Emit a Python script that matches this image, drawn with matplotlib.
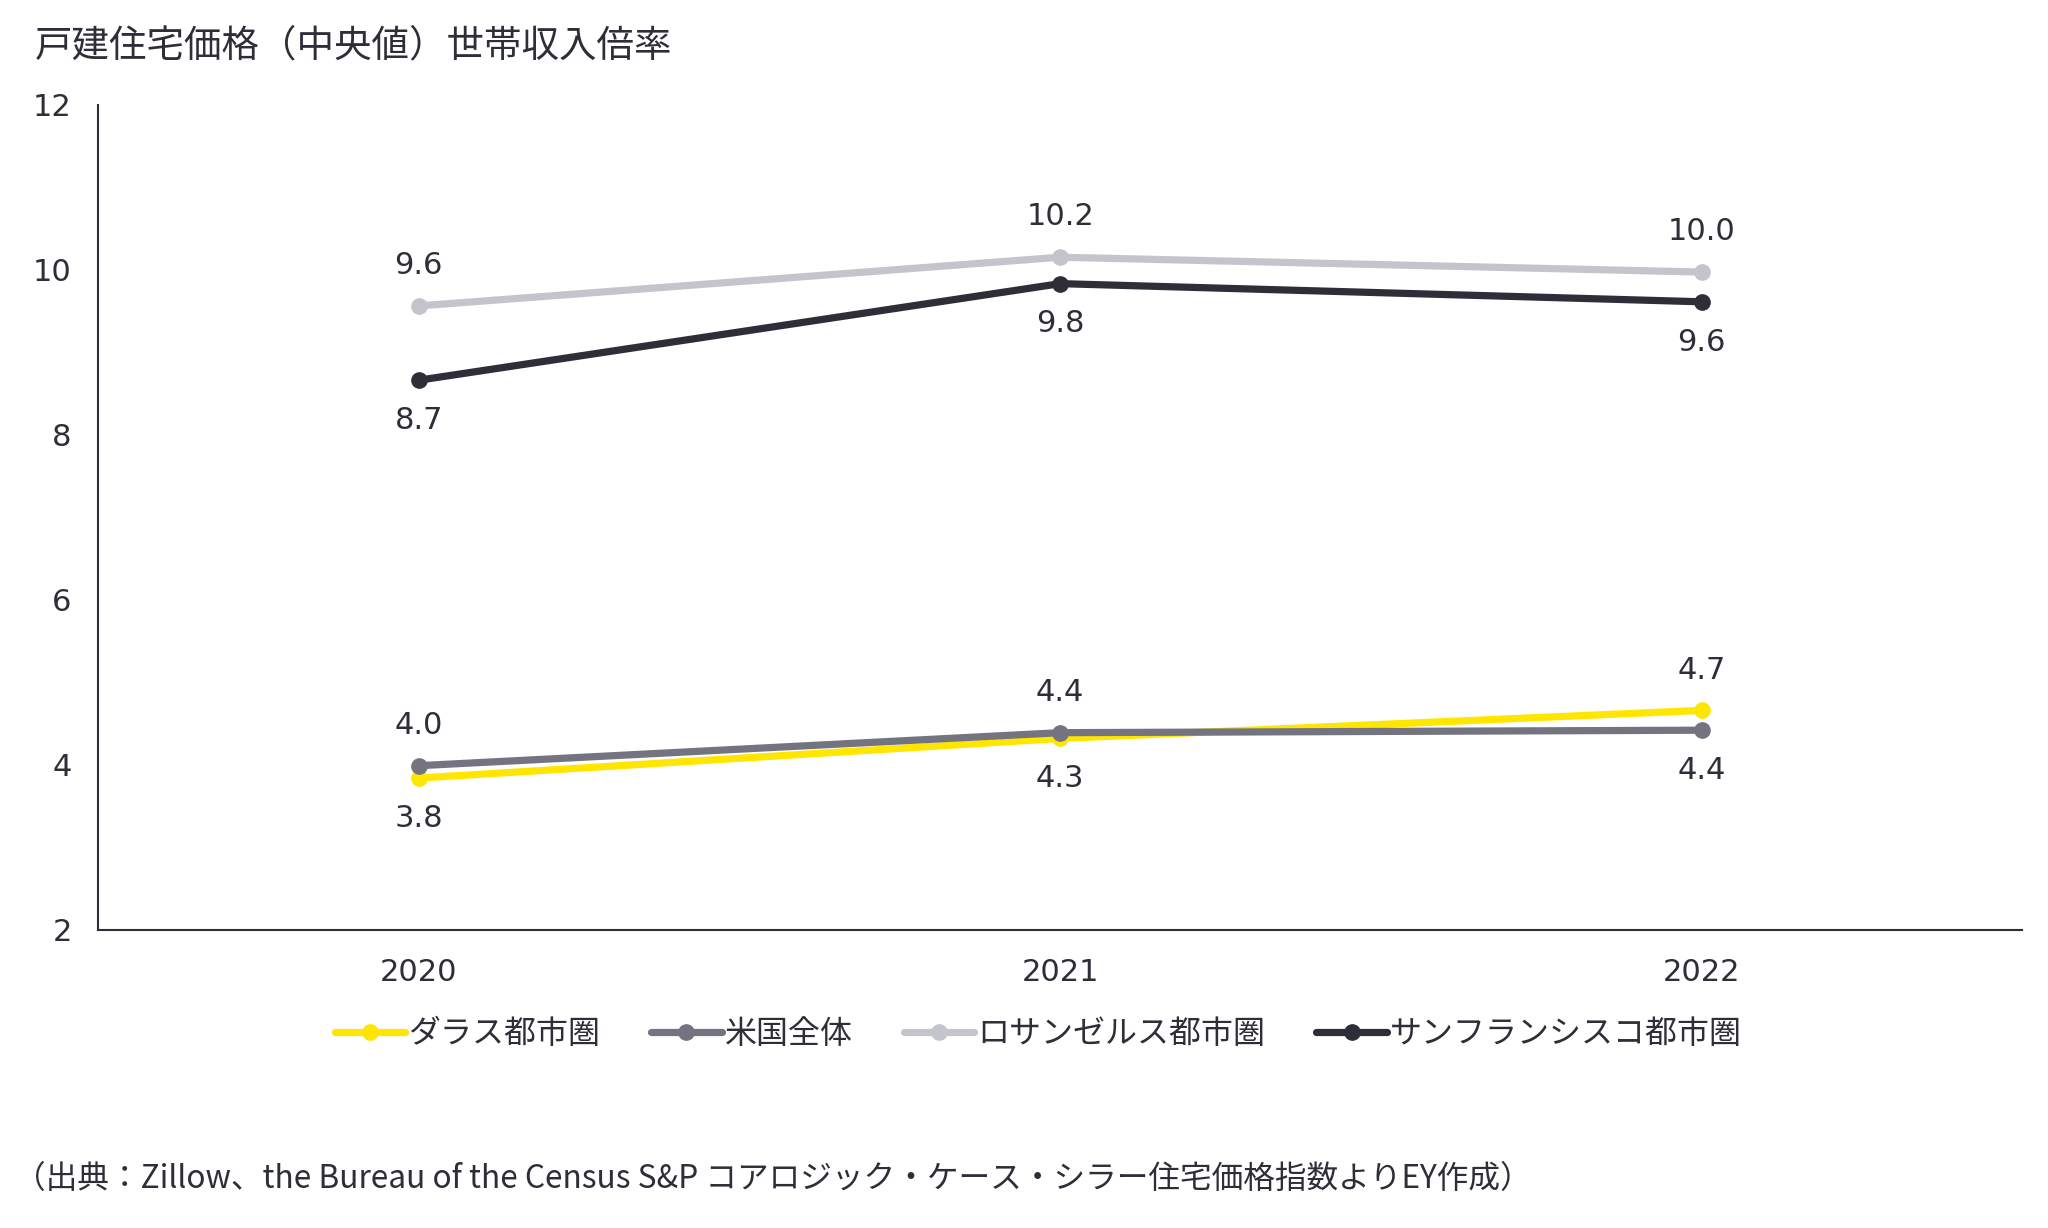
import numpy as np
import matplotlib
matplotlib.use('Agg')
import matplotlib.pyplot as plt

plt.rcParams['font.family'] = ['Noto Sans CJK JP', 'DejaVu Sans']

years = ['2020', '2021', '2022']
dallas = [3.84, 4.32, 4.66]
us_total = [3.99, 4.39, 4.42]
la = [9.56, 10.15, 9.97]
sf = [8.66, 9.83, 9.61]

names = ['ダラス都市圏', '米国全体', 'ロサンゼルス都市圏', 'サンフランシスコ都市圏']
colors = ['#FFE600', '#747480', '#C4C4CD', '#2E2E38']
# label side for each point: 1 = above, -1 = below
sides = [[-1, -1, 1], [1, 1, -1], [1, 1, 1], [-1, -1, -1]]

txt = '#2E2E38'

fig = plt.figure(figsize=(20.48, 12.28), dpi=100)
ax = fig.add_axes([0.0479, 0.2427, 0.9395, 0.6722])

x = np.arange(len(years))
for vals, name, col, side in zip([dallas, us_total, la, sf], names, colors, sides):
    ax.plot(x, vals, color=col, lw=5.2, marker='o', ms=11, label=name,
            solid_capstyle='round', zorder=3)
    for xi, v, s in zip(x, vals, side):
        ax.annotate(f'{v:.1f}', (xi, v), xytext=(0, 29 * s), textcoords='offset points',
                    ha='center', va='center', fontsize=22, color=txt,
                    family=['DejaVu Sans'])

ax.set_xlim(-0.5, 2.5)
ax.set_ylim(2, 12)
ax.set_yticks([2, 4, 6, 8, 10, 12])
ax.set_xticks(x)
ax.set_xticklabels(years)
ax.tick_params(length=0, labelsize=22, colors=txt)
ax.tick_params(axis='y', pad=19)
ax.tick_params(axis='x', pad=20)
for lab in ax.get_xticklabels() + ax.get_yticklabels():
    lab.set_family(['DejaVu Sans'])
for s in ['top', 'right']:
    ax.spines[s].set_visible(False)
for s in ['left', 'bottom']:
    ax.spines[s].set_color(txt)
    ax.spines[s].set_linewidth(1.5)

fig.text(0.017, 0.9625, '戸建住宅価格（中央値）世帯収入倍率', fontsize=27, color=txt,
         va='center', ha='left')

fig.legend(loc='center', bbox_to_anchor=(0.507, 0.158), ncol=4, frameon=False,
           fontsize=23, handlelength=2.2, handletextpad=0.1, columnspacing=1.6,
           labelcolor=txt)

fig.text(0.007, 0.040,
         '（出典：Zillow、the Bureau of the Census S&P コアロジック・ケース・シラー住宅価格指数よりEY作成）',
         fontsize=22.8, color=txt, va='center', ha='left')

fig.savefig('out.png', dpi=100, facecolor='white')
